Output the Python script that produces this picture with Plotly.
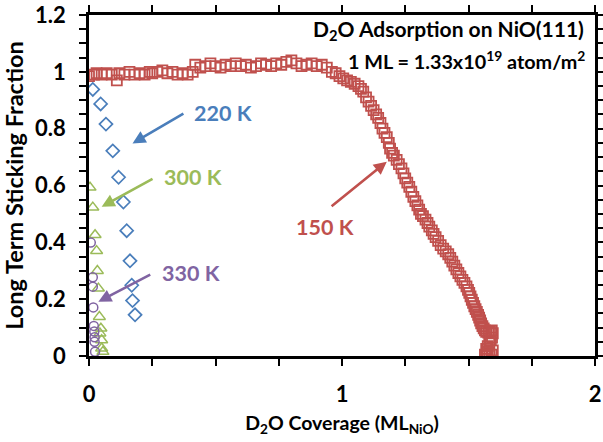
import plotly.graph_objects as go

# 150 K (red squares)
x150 = [0.00,0.02,0.03,0.05,0.07,0.09,0.11,0.12,0.14,0.16,0.18,0.20,0.22,0.24,0.25,0.27,0.29,0.31,0.33,0.35,
        0.37,0.39,0.41,0.42,0.44,0.46,0.48,0.50,0.52,0.54,0.56,0.58,0.60,0.62,0.64,0.66,0.68,0.70,0.72,0.74,
        0.76,0.78,0.80,0.82,0.84,0.86,0.88,0.90,0.92,0.94,
        0.96,0.975,0.99,1.005,1.02,1.035,1.05,1.065,1.075,1.084,1.095,1.105,1.115,1.125,1.135,1.143,1.152,1.16,
        1.168,1.177,1.185,1.19,1.198,1.205,1.216,1.225,1.235,1.243,1.25,1.258,1.266,1.274,1.282,1.29,1.298,
        1.305,1.312,1.32,1.33,1.338,1.345,1.355,1.362,1.37,1.38,1.39,1.40,1.41,1.42,1.428,1.436,1.444,1.452,
        1.46,1.468,1.476,1.484,1.492,1.498,1.503,1.508,1.513,1.518,1.523,1.528,1.533,1.538,1.542,1.546,1.55,
        1.555,1.56,1.565,1.57,1.578,1.585,1.592,1.596,1.593,1.588,1.582,1.576,1.57,1.575,1.582,1.59,1.596,
        1.565,1.57]
y150 = [0.985,0.99,0.995,0.99,0.995,0.99,0.97,0.995,0.99,1.0,0.99,0.995,0.99,1.0,0.995,1.0,1.005,0.995,1.0,0.99,
        0.995,0.99,1.0,1.025,1.015,1.02,1.03,1.02,1.015,1.025,1.02,1.03,1.02,1.025,1.015,1.02,1.03,1.025,1.02,1.03,
        1.025,1.035,1.04,1.03,1.02,1.025,1.03,1.02,1.025,1.015,
        1.0,0.995,0.985,0.977,0.97,0.965,0.958,0.95,0.94,0.93,0.91,0.895,0.88,0.865,0.85,0.838,0.82,0.80,
        0.785,0.77,0.75,0.73,0.715,0.705,0.69,0.675,0.66,0.643,0.625,0.61,0.595,0.578,0.56,0.545,0.53,
        0.515,0.50,0.492,0.48,0.468,0.455,0.442,0.43,0.418,0.405,0.39,0.378,0.368,0.358,0.345,0.332,0.318,0.305,
        0.292,0.28,0.268,0.257,0.245,0.233,0.222,0.21,0.198,0.187,0.175,0.165,0.155,0.145,0.135,0.125,0.115,
        0.105,0.097,0.09,0.085,0.082,0.085,0.09,0.08,0.065,0.055,0.045,0.035,0.025,0.015,0.01,0.005,0.02,
        0.005,0.0]

# 220 K (blue diamonds)
x220 = [0.015,0.046,0.067,0.094,0.117,0.136,0.149,0.162,0.169,0.172,0.182]
y220 = [0.938,0.887,0.816,0.722,0.629,0.542,0.441,0.335,0.249,0.195,0.145]

# 300 K (green triangles)
x300 = [0.004,0.015,0.024,0.030,0.033,0.037,0.041,0.043,0.050,0.050,0.055,0.047]
y300 = [0.593,0.523,0.426,0.370,0.300,0.238,0.138,0.080,0.056,0.027,0.015,0.097]

# 330 K (purple circles)
x330 = [0.007,0.015,0.015,0.017,0.019,0.021,0.022,0.022,0.024]
y330 = [0.399,0.277,0.244,0.171,0.106,0.086,0.066,0.050,0.015]

RED = "#C0504D"; BLUE = "#4A7EBB"; GREEN = "#9BBB59"; PURPLE = "#8064A2"
FONT = "Lato"

fig = go.Figure()
fig.add_trace(go.Scatter(x=x150, y=y150, mode="markers", name="150 K",
                         marker=dict(symbol="square-open", size=10, color=RED, line=dict(width=1.8))))
fig.add_trace(go.Scatter(x=x220, y=y220, mode="markers", name="220 K",
                         marker=dict(symbol="diamond-open", size=10, color=BLUE, line=dict(width=1.7))))
fig.add_trace(go.Scatter(x=x300, y=y300, mode="markers", name="300 K",
                         marker=dict(symbol="triangle-up-open", size=10.5, color=GREEN, line=dict(width=1.5))))
fig.add_trace(go.Scatter(x=x330, y=y330, mode="markers", name="330 K",
                         marker=dict(symbol="circle-open", size=9, color=PURPLE, line=dict(width=1.5))))

axcommon = dict(showline=True, linecolor="black", linewidth=2.5, mirror="allticks",
                ticks="outside", ticklen=7, tickwidth=2, tickcolor="black",
                showgrid=False, zeroline=False, automargin=False,
                tickfont=dict(family=FONT, size=22, color="black", weight="bold"))

fig.update_xaxes(range=[0, 2], tick0=0, dtick=1, ticklabelstandoff=10,
                 minor=dict(dtick=0.25, ticks="outside", ticklen=7, tickwidth=2, tickcolor="black",
                            showgrid=False),
                 title=dict(text="D<sub>2</sub>O Coverage (ML<sub>NiO</sub>)", standoff=11,
                            font=dict(family=FONT, size=19.5, color="black", weight="bold")),
                 **axcommon)
fig.update_yaxes(range=[0, 1.2], tick0=0, dtick=0.2, ticklabelstandoff=9,
                 minor=dict(dtick=0.05, ticks="outside", ticklen=7, tickwidth=2, tickcolor="black",
                            showgrid=False),
                 title=dict(text="Long Term Sticking Fraction", standoff=5,
                            font=dict(family=FONT, size=23.5, color="black", weight="bold")),
                 **axcommon)

def arrow(x0, y0, x1, y1, color):
    fig.add_annotation(x=x1, y=y1, ax=x0, ay=y0, xref="x", yref="y", axref="x", ayref="y",
                       text="", showarrow=True, arrowhead=2, arrowsize=1, arrowwidth=2.6,
                       arrowcolor=color)

def label(x, y, t, color):
    fig.add_annotation(x=x, y=y, xref="x", yref="y", text=t, showarrow=False,
                       font=dict(family=FONT, size=21.5, color=color, weight="bold"))

arrow(0.379, 0.856, 0.172, 0.748, BLUE)
label(0.53, 0.855, "220 K", BLUE)
arrow(0.257, 0.626, 0.05, 0.525, GREEN)
label(0.411, 0.63, "300 K", GREEN)
arrow(0.248, 0.289, 0.037, 0.191, PURPLE)
label(0.403, 0.292, "330 K", PURPLE)
arrow(0.953, 0.523, 1.177, 0.684, RED)
label(0.933, 0.455, "150 K", RED)

fig.add_annotation(x=0.982, y=0.955, xref="paper", yref="paper", xanchor="right", yanchor="middle",
                   text="D<sub>2</sub>O Adsorption on NiO(111)", showarrow=False,
                   font=dict(family=FONT, size=21, color="black", weight="bold"))
fig.add_annotation(x=0.984, y=0.868, xref="paper", yref="paper", xanchor="right", yanchor="middle",
                   text="1 ML = 1.33x10<sup>19</sup> atom/m<sup>2</sup>", showarrow=False,
                   font=dict(family=FONT, size=19.8, color="black", weight="bold"))

fig.update_layout(width=603, height=442, margin=dict(l=89, r=8, t=15, b=86),
                  plot_bgcolor="white", paper_bgcolor="white", showlegend=False)

fig.write_html("out.html")
